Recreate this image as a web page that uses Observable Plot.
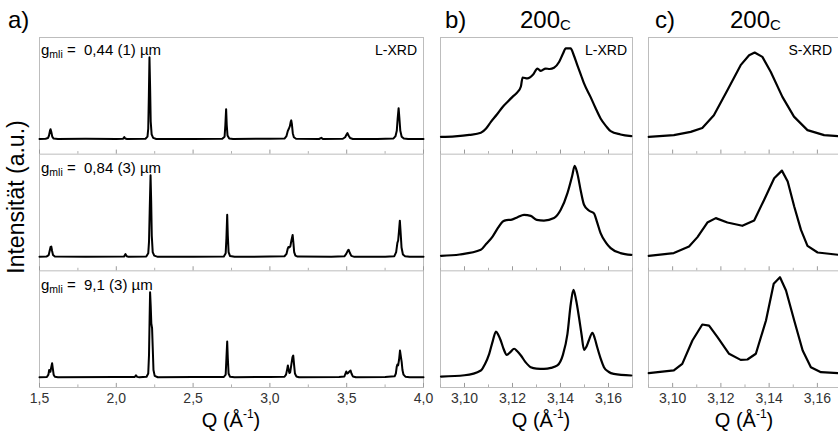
<!DOCTYPE html>
<html><head><meta charset="utf-8">
<script src="https://cdn.jsdelivr.net/npm/d3@7"></script>
<script src="https://cdn.jsdelivr.net/npm/@observablehq/plot@0.6"></script>
<style>
body{margin:0;background:#fff;font-family:"Liberation Sans",Arial,sans-serif;}
#wrap{position:relative;width:838px;height:434px;overflow:hidden;background:#fff;}
#wrap > svg{position:absolute;top:0;}
</style></head><body><div id="wrap"></div>
<script>
// ---------- data ----------
const aTicks = [1.5, 2.0, 2.5, 3.0, 3.5, 4.0];
const aMinor = [1.75, 2.25, 2.75, 3.25, 3.75];
const bTicks = [3.10, 3.12, 3.14, 3.16];
const bMinor = [3.09, 3.11, 3.13, 3.15, 3.17];
const grainSizes = ["0,44 (1)", "0,84 (3)", "9,1 (3)"];
const methodLabels = ["L-XRD", "L-XRD", "S-XRD"];
const panelLabels = ["a)", "b)", "c)"];
const reflex = "200";

const aTop = [[1.500,13],[1.540,13.2],[1.555,13.8],[1.562,16],[1.568,20],[1.572,21.4],[1.577,19],[1.583,15],[1.592,13.4],[1.62,13],[1.80,13.2],[2.00,13],[2.045,13.3],[2.052,14.6],[2.058,13.4],[2.07,13],[2.190,13.2],[2.203,15],[2.208,22],[2.212,50],[2.216,83],[2.220,58],[2.224,28],[2.230,17],[2.240,14],[2.26,13],[2.50,13.1],[2.69,13.2],[2.705,15],[2.710,25],[2.715,38.6],[2.719,25],[2.724,16],[2.735,13.5],[2.76,13],[3.00,13.2],[3.095,13.4],[3.108,15.5],[3.117,20],[3.124,22],[3.130,24],[3.136,28],[3.139,29],[3.143,26],[3.149,18],[3.156,14.5],[3.17,13.2],[3.32,13],[3.335,14],[3.345,13],[3.475,13.2],[3.490,14.5],[3.500,17],[3.505,18],[3.512,16],[3.522,13.8],[3.54,13],[3.70,13.1],[3.805,13.5],[3.818,15.5],[3.826,20],[3.832,31],[3.838,39.4],[3.843,31],[3.849,20],[3.858,15],[3.872,13.4],[3.90,13],[4.00,13]];
const aMid = [[1.500,12],[1.545,12.2],[1.560,13.5],[1.566,17],[1.572,20.5],[1.577,20.8],[1.582,17],[1.588,13.5],[1.60,12.2],[1.80,12],[2.05,12.2],[2.060,14.3],[2.068,12.5],[2.08,12],[2.195,12.3],[2.208,15],[2.213,25],[2.218,55],[2.223,82],[2.227,60],[2.231,30],[2.237,16],[2.247,13],[2.27,12],[2.50,12.1],[2.70,12.2],[2.712,15],[2.717,28],[2.722,48],[2.726,30],[2.731,16],[2.740,12.8],[2.77,12],[3.00,12.2],[3.095,12.5],[3.108,14.5],[3.116,19],[3.121,20.5],[3.127,20],[3.133,21],[3.140,26],[3.148,30.8],[3.153,24],[3.158,16],[3.166,13],[3.18,12.2],[3.40,12],[3.485,12.4],[3.497,14.5],[3.508,17.5],[3.513,18],[3.520,15.5],[3.530,12.8],[3.55,12],[3.75,12.1],[3.810,12.6],[3.822,16],[3.830,24],[3.835,26],[3.841,35],[3.846,43],[3.851,33],[3.857,20],[3.866,14],[3.880,12.5],[3.91,12],[4.00,12]];
const aBot = [[1.500,8.8],[1.548,9],[1.558,11],[1.563,15],[1.567,14],[1.571,13.5],[1.576,17],[1.582,20.8],[1.587,16],[1.592,11],[1.600,9.2],[1.62,8.8],[2.00,8.9],[2.12,9],[2.128,10.5],[2.136,9.1],[2.15,8.8],[2.197,9.2],[2.208,12],[2.213,28],[2.217,60],[2.220,81.7],[2.224,70],[2.228,55],[2.233,50.6],[2.237,35],[2.242,15],[2.250,10],[2.27,8.8],[2.50,8.9],[2.70,9],[2.712,11],[2.717,25],[2.722,39.4],[2.726,25],[2.731,12],[2.74,9.3],[2.77,8.8],[3.00,9],[3.095,9.2],[3.105,11],[3.113,16],[3.117,18.9],[3.122,15],[3.127,12.5],[3.132,13],[3.140,20],[3.147,26],[3.152,27.4],[3.157,20],[3.163,12],[3.172,9.5],[3.19,8.8],[3.45,8.9],[3.485,9.4],[3.492,12],[3.497,13.7],[3.503,12],[3.510,12.5],[3.518,13.8],[3.525,14.6],[3.531,12],[3.540,9.5],[3.56,8.8],[3.75,8.9],[3.812,9.6],[3.820,12],[3.826,18],[3.830,19.7],[3.835,19],[3.841,24],[3.847,31.7],[3.852,27],[3.858,21.7],[3.863,15],[3.870,11],[3.882,9.3],[3.91,8.8],[4.00,8.8]];

const bTop = [[3.0902,14.8],[3.0960,15.3],[3.1020,16.5],[3.1068,18.3],[3.1090,22],[3.1110,27.7],[3.1135,34],[3.1159,40.5],[3.1180,45],[3.1200,49.1],[3.1220,53],[3.1235,58],[3.1242,65.7],[3.1262,64.9],[3.1285,68],[3.1304,73.4],[3.1318,71.4],[3.1338,73.4],[3.1355,73],[3.1373,74],[3.1394,79],[3.1410,86],[3.1422,90.6],[3.1442,90.6],[3.1455,85],[3.1470,76.3],[3.1485,68],[3.1498,60.6],[3.1525,49.1],[3.1545,40],[3.1567,30.6],[3.1590,24],[3.1609,19.7],[3.1650,16.9],[3.1695,15.4]];
const bMid = [[3.0902,12.9],[3.0980,14],[3.1068,18],[3.1090,23],[3.1117,29.4],[3.1140,37],[3.1159,42.2],[3.1175,43.5],[3.1193,43.7],[3.1221,46],[3.1248,48],[3.1276,47.1],[3.1301,43.7],[3.1331,43.1],[3.1373,45.2],[3.1401,52.3],[3.1429,66.6],[3.1449,81.7],[3.1459,90],[3.1470,83.7],[3.1485,68],[3.1498,56.6],[3.1518,51.7],[3.1539,49.4],[3.1552,42],[3.1567,32.3],[3.1590,24],[3.1609,19.5],[3.1650,15.2],[3.1695,13.7]];
const bBot = [[3.0902,9.4],[3.1000,10.5],[3.1068,14.6],[3.1085,20],[3.1103,28.9],[3.1118,40],[3.1131,48],[3.1141,45],[3.1151,40.3],[3.1163,33],[3.1176,28],[3.1192,30.5],[3.1207,33.2],[3.1220,31],[3.1235,27.4],[3.1255,21.5],[3.1276,17.4],[3.1300,16.2],[3.1331,16],[3.1360,16.8],[3.1387,18.9],[3.1410,28],[3.1429,46],[3.1443,72],[3.1454,83.7],[3.1465,75],[3.1477,60.2],[3.1488,45],[3.1498,32.3],[3.1508,35],[3.1518,40.3],[3.1533,46.9],[3.1543,42],[3.1553,34.5],[3.1567,25],[3.1581,17.4],[3.1600,13.5],[3.1622,11.7],[3.1695,10.3]];

const cTop = [[3.0901,14.8],[3.1005,16.3],[3.1075,19.1],[3.1123,22.5],[3.1171,33.4],[3.1227,54.8],[3.1282,76.3],[3.1317,84.8],[3.1340,87.1],[3.1372,83.4],[3.1407,70.5],[3.1455,49.1],[3.1503,32.2],[3.1559,20.6],[3.1628,16.3],[3.1689,15.4]];
const cMid = [[3.0901,12.9],[3.1005,15.2],[3.1068,20.8],[3.1103,28.9],[3.1144,41.4],[3.1179,45.2],[3.1227,41.4],[3.1289,38.6],[3.1338,43.1],[3.1379,60.8],[3.1421,79.4],[3.1453,85.9],[3.1477,76.5],[3.1504,55.1],[3.1532,35.1],[3.1559,21.4],[3.1601,15.7],[3.1689,13.7]];
const cBot = [[3.0901,12.3],[3.1005,14.6],[3.1040,20.3],[3.1082,40.3],[3.1123,54],[3.1151,53.1],[3.1186,43.1],[3.1234,28.9],[3.1282,23.7],[3.1310,24],[3.1345,28.9],[3.1387,57.4],[3.1419,88.9],[3.1445,94.5],[3.1470,83.1],[3.1504,57.4],[3.1539,31.7],[3.1573,17.4],[3.1615,13.1],[3.1689,12.3]];

// ---------- drawing ----------
const FONT = '"Liberation Sans", Arial, sans-serif';
const wrap = document.getElementById("wrap");
const ROW = 100; // each stacked row spans 100 intensity units

function panel({left, width, mL, mR, domain, ticks, minor, digits, series, sw, curve}) {
  const data = series.flatMap((s, i) => s.map(([q, v]) => ({q, v: v + (2 - i) * ROW, row: i})));
  const rowBases = [0, ROW, 2 * ROW];
  const maj = rowBases.flatMap(r => ticks.map(t => ({t, r})));
  const mnr = rowBases.flatMap(r => minor.map(t => ({t, r})));
  const el = Plot.plot({
    width, height: 434,
    marginLeft: mL, marginRight: mR, marginTop: 37, marginBottom: 47,
    style: {fontFamily: FONT, fontSize: "14px", color: "#333", background: "transparent", overflow: "visible"},
    x: {domain, ticks, tickFormat: d => d.toFixed(digits).replace(".", ","), tickSize: 0, tickPadding: 6, label: null},
    y: {domain: [0, 3 * ROW], axis: null},
    marks: [
      Plot.ruleY([ROW, 2 * ROW], {stroke: "#bdbdbd", strokeWidth: 1}),
      Plot.frame({stroke: "#bdbdbd", strokeWidth: 1}),
      Plot.ruleX(maj, {x: "t", y1: "r", y2: d => d.r + 3.5, stroke: "#9a9a9a"}),
      Plot.ruleX(mnr, {x: "t", y1: "r", y2: d => d.r + 2.2, stroke: "#b0b0b0"}),
      Plot.line(data, {x: "q", y: "v", z: "row", stroke: "#000", strokeWidth: sw, curve, strokeLinejoin: "round"})
    ]
  });
  el.style.left = left + "px";
  wrap.appendChild(el);
}

panel({left: 0, width: 430, mL: 39, mR: 7, domain: [1.5, 4.0], ticks: aTicks, minor: aMinor, digits: 1,
       series: [aTop, aMid, aBot], sw: 2, curve: "linear"});
panel({left: 430, width: 204, mL: 10, mR: 2, domain: [3.09, 3.17], ticks: bTicks, minor: bMinor, digits: 2,
       series: [bTop, bMid, bBot], sw: 2.2, curve: "monotone-x"});
panel({left: 630, width: 211, mL: 18, mR: 0, domain: [3.09, 3.17], ticks: bTicks, minor: bMinor, digits: 2,
       series: [cTop, cMid, cBot], sw: 2.2, curve: "linear"});

// ---------- text overlay ----------
const svg = d3.select(wrap).append("svg").attr("width", 838).attr("height", 434)
  .style("left", "0px").style("font-family", FONT).style("pointer-events", "none");

[[8, panelLabels[0]], [445, panelLabels[1]], [655, panelLabels[2]]].forEach(([x, t]) =>
  svg.append("text").attr("x", x).attr("y", 28).attr("font-size", 24).text(t));
[520, 730].forEach(x => {
  const t = svg.append("text").attr("x", x).attr("y", 28).attr("font-size", 24);
  t.append("tspan").text(reflex);
  t.append("tspan").attr("font-size", 15).attr("dy", 2).text("C");
});

svg.append("text").attr("transform", "translate(24,197) rotate(-90)").attr("text-anchor", "middle")
  .attr("font-size", 23).text("Intensität (a.u.)");

[231, 541, 744].forEach(x => {
  const t = svg.append("text").attr("x", x).attr("y", 427).attr("text-anchor", "middle").attr("font-size", 20);
  t.append("tspan").text("Q (Å");
  t.append("tspan").attr("font-size", 12).attr("dy", -9).text("-1");
  t.append("tspan").attr("dy", 9).text(")");
});

[55, 172.5, 290].forEach((y, i) => {
  const t = svg.append("text").attr("x", 41).attr("y", y).attr("font-size", 15).style("white-space", "pre");
  t.append("tspan").text("g");
  t.append("tspan").attr("font-size", 10.5).attr("dy", 3).text("mli");
  t.append("tspan").attr("dy", -3).text(" =  " + grainSizes[i] + " µm");
});

[[417, methodLabels[0]], [627, methodLabels[1]], [832, methodLabels[2]]].forEach(([x, t]) =>
  svg.append("text").attr("x", x).attr("y", 55).attr("text-anchor", "end").attr("font-size", 14).text(t));
</script></body></html>
